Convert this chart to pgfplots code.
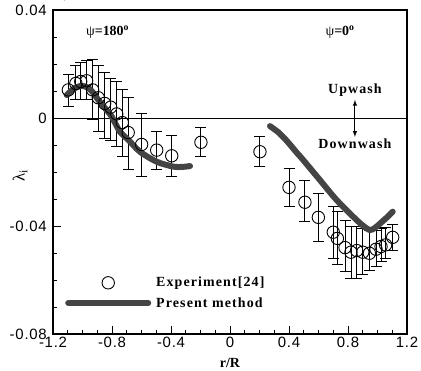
\documentclass[border=0pt]{standalone}
\usepackage{fontspec}
\setmainfont{Liberation Serif}
\setsansfont{Liberation Sans}
\usepackage{pgfplots}
\pgfplotsset{compat=1.18}
\usepackage{pgfplotstable}
\definecolor{linegray}{HTML}{444444}

\pgfplotstableread{
x y ep em
-1.096 0.0104 0.0059 0.0060
-1.045 0.0128 0.0068 0.0061
-1.012 0.0135 0.0070 0.0068
-0.972 0.0138 0.0074 0.0071
-0.931 0.0104 0.0111 0.0111
-0.893 0.0075 0.0121 0.0125
-0.850 0.0054 0.0114 0.0129
-0.809 0.0040 0.0108 0.0122
-0.768 0.0015 0.0119 0.0121
-0.730 -0.0017 0.0121 0.0126
-0.690 -0.0054 0.0129 0.0136
-0.599 -0.0098 0.0113 0.0117
-0.497 -0.0119 0.0071 0.0071
-0.395 -0.0140 0.0075 0.0077
-0.197 -0.0090 0.0055 0.0053
0.203 -0.0125 0.0056 0.0055
0.400 -0.0257 0.0071 0.0071
0.508 -0.0312 0.0080 0.0072
0.599 -0.0368 0.0089 0.0090
0.700 -0.0423 0.0095 0.0097
0.728 -0.0446 0.0099 0.0098
0.780 -0.0480 0.0102 0.0089
0.820 -0.0497 0.0094 0.0097
0.859 -0.0491 0.0088 0.0103
0.900 -0.0497 0.0087 0.0083
0.945 -0.0501 0.0086 0.0064
0.990 -0.0486 0.0071 0.0064
1.024 -0.0476 0.0066 0.0054
1.055 -0.0470 0.0065 0.0050
1.103 -0.0442 0.0046 0.0047
}\expdata

\pgfplotstableread{
x y
-1.107 0.0085
-1.060 0.0108
-1.012 0.0119
-0.965 0.0113
-0.930 0.0095
-0.893 0.0067
-0.850 0.0038
-0.802 0.0005
-0.746 -0.0051
-0.689 -0.0081
-0.610 -0.0125
-0.497 -0.0162
-0.384 -0.0180
-0.320 -0.0181
-0.271 -0.0178
}\lineleft

\pgfplotstableread{
x y
0.271 -0.0030
0.330 -0.0054
0.384 -0.0084
0.452 -0.0128
0.497 -0.0156
0.610 -0.0230
0.720 -0.0302
0.836 -0.0366
0.900 -0.0398
0.949 -0.0415
0.985 -0.0406
1.017 -0.0391
1.060 -0.0370
1.103 -0.0347
}\lineright

\begin{document}
\begin{tikzpicture}
\begin{axis}[
  at={(0,0)}, anchor=south west,
  width=354bp, height=324bp, scale only axis,
  xmin=-1.2, xmax=1.2, ymin=-0.08, ymax=0.04,
  xtick={-1.2,-0.8,-0.4,0,0.4,0.8,1.2},
  xticklabels={-1.2,-0.8,-0.4,0,0.4,0.8,1.2},
  ytick={-0.08,-0.04,0,0.04},
  yticklabels={-0.08,-0.04,0,0.04},
  minor x tick num=3, minor y tick num=3,
  tick align=inside, tick pos=left,
  major tick length=8bp, minor tick length=4bp,
  tick style={black, line width=0.8pt},
  axis line style={line width=1.3pt},
  ticklabel style={font=\sffamily\fontsize{15}{15}\selectfont\addfontfeatures{LetterSpace=5}},
  yticklabel style={inner sep=0pt, xshift=-6bp},
  xticklabel style={inner sep=0pt, yshift=-3bp},
  xlabel={\textbf{r/R}},
  xlabel style={font=\fontsize{14}{14}\selectfont, at={(axis description cs:0.5,-0.0895)}, anchor=center},
  ylabel={λ\textsubscript{i}},
  ylabel style={font=\fontsize{17}{17}\selectfont, at={(axis description cs:-0.093,0.488)}, anchor=center},
  legend cell align=left,
  legend style={draw=none, fill=none, at={(axis description cs:0.034,0.182)}, anchor=north west,
    font=\bfseries\fontsize{14}{14}\selectfont\addfontfeatures{LetterSpace=8},
    row sep=5bp, column sep=3bp, inner sep=0pt},
]
\addplot[black, forget plot, line width=0.8pt] coordinates {(-1.2,0) (1.2,0)};
\addplot[black, only marks, mark=o, mark size=6.2bp, mark options={line width=0.9pt},
  legend image code/.code={\draw[black, line width=0.9pt] (40bp,0bp) circle (6.2bp);},
  error bars/.cd, y dir=both, y explicit,
  error bar style={line width=0.9pt},
  error mark options={rotate=90, mark size=5.5bp, line width=0.9pt}]
  table[x=x, y=y, y error plus=ep, y error minus=em] {\expdata};
\addlegendentry{Experiment[24]}
\addplot[linegray, line width=6bp, line cap=round, smooth, tension=0.5,
  legend image code/.code={\draw[linegray, line width=6bp, line cap=round] (0bp,0bp) -- (80bp,0bp);}]
  table[x=x, y=y] {\lineleft};
\addlegendentry{Present method}
\addplot[linegray, line width=6bp, line cap=round, smooth, tension=0.5, forget plot]
  table[x=x, y=y] {\lineright};
\node[font=\fontsize{14}{14}\selectfont] at (axis cs:-0.83,0.0319) {ψ\textbf{=180\textsuperscript{o}}};
\node[font=\fontsize{14}{14}\selectfont] at (axis cs:0.746,0.0319) {ψ\textbf{=0\textsuperscript{o}}};
\node[font=\bfseries\fontsize{14}{14}\selectfont\addfontfeatures{LetterSpace=8}] at (axis cs:0.847,0.0104) {Upwash};
\node[font=\bfseries\fontsize{14}{14}\selectfont\addfontfeatures{LetterSpace=8}] at (axis cs:0.847,-0.0096) {Downwash};
\draw[black, line width=1pt, <->, >=latex] (axis cs:0.847,0.0067) -- (axis cs:0.847,-0.007);
\end{axis}
\pgfresetboundingbox
\path[use as bounding box] (-53bp,-37bp) rectangle (368bp,334bp);
\end{tikzpicture}
\end{document}
